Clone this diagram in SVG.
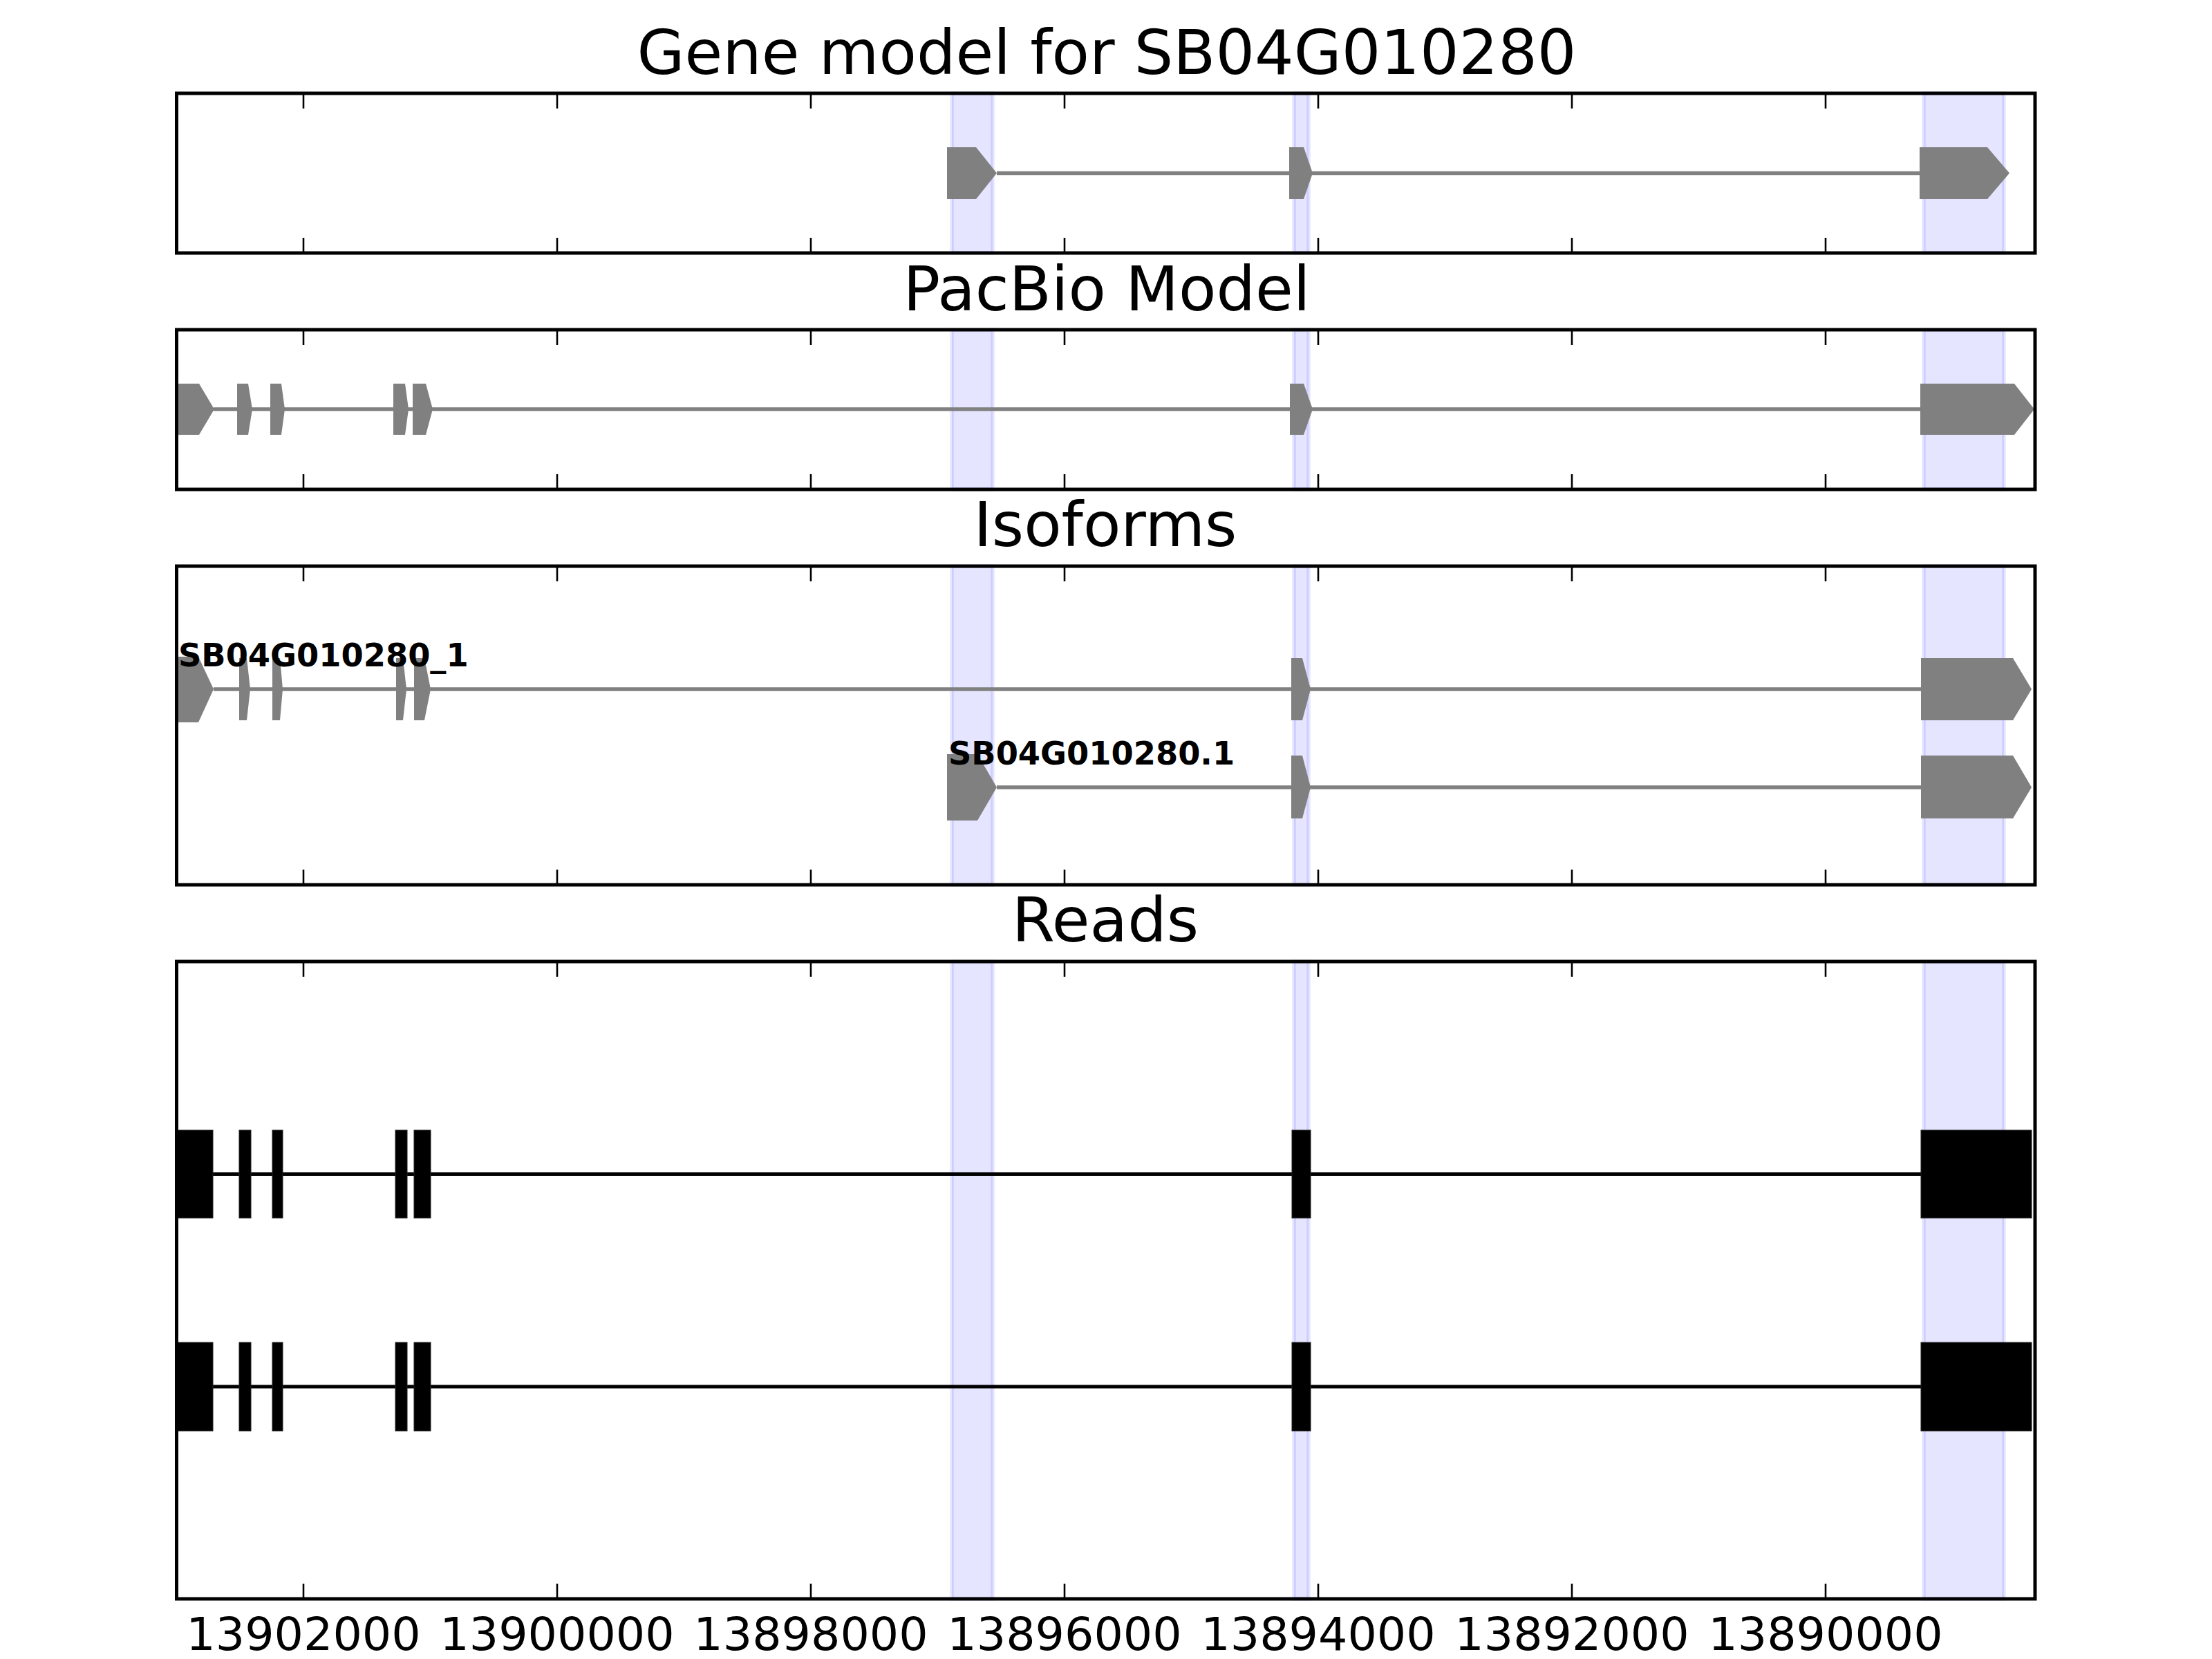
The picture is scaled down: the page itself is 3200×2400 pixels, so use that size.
<svg xmlns="http://www.w3.org/2000/svg" width="3200" height="2400" viewBox="0 0 3200 2400">
<style>
.title{font-family:"DejaVu Sans","Liberation Sans",sans-serif;font-size:89px;fill:#000;text-anchor:middle}
.tick{font-family:"DejaVu Sans","Liberation Sans",sans-serif;font-size:66.7px;fill:#000;text-anchor:middle}
.lbl{font-family:"DejaVu Sans","Liberation Sans",sans-serif;font-size:46.3px;font-weight:bold;fill:#000}
.frame{fill:none;stroke:#000;stroke-width:5}
.band{fill:#0000ff;fill-opacity:0.1;stroke:#0000ff;stroke-opacity:0.1;stroke-width:5.5}
.exon{fill:#808080;stroke:none}
.read{fill:#000;stroke:#222;stroke-width:1}
.intron{stroke:#808080;stroke-width:5.5;fill:none}
.rintron{stroke:#000;stroke-width:5;fill:none}
.tk{stroke:#000;stroke-width:2.6}
</style>
<rect x="0" y="0" width="3200" height="2400" fill="#fff"/>

<!-- titles -->
<text class="title" x="1601" y="107">Gene model for SB04G010280</text>
<text class="title" x="1601" y="449">PacBio Model</text>
<text class="title" x="1599" y="790">Isoforms</text>
<text class="title" x="1599" y="1362">Reads</text>

<!-- highlight bands -->
<g id="bands">
<rect class="band" x="1377" y="135" width="59" height="231"/>
<rect class="band" x="1872" y="135" width="21" height="231"/>
<rect class="band" x="2783" y="135" width="116" height="231"/>
<rect class="band" x="1377" y="477" width="59" height="231"/>
<rect class="band" x="1872" y="477" width="21" height="231"/>
<rect class="band" x="2783" y="477" width="116" height="231"/>
<rect class="band" x="1377" y="819" width="59" height="461"/>
<rect class="band" x="1872" y="819" width="21" height="461"/>
<rect class="band" x="2783" y="819" width="116" height="461"/>
<rect class="band" x="1377" y="1391" width="59" height="922"/>
<rect class="band" x="1872" y="1391" width="21" height="922"/>
<rect class="band" x="2783" y="1391" width="116" height="922"/>
</g>

<!-- connectors (introns) -->
<g id="connectors">
<line class="intron" x1="1442" y1="250.5" x2="2777" y2="250.5"/>
<line class="intron" x1="309" y1="592" x2="2778" y2="592"/>
<line class="intron" x1="309" y1="997" x2="2779" y2="997"/>
<line class="intron" x1="1442" y1="1139" x2="2779" y2="1139"/>
<line class="rintron" x1="256" y1="1698.5" x2="2939" y2="1698.5"/>
<line class="rintron" x1="256" y1="2006" x2="2939" y2="2006"/>
</g>

<!-- gene model -->
<g id="gene-model">
<polygon class="exon" points="1370,213 1412,213 1442,250.5 1412,288 1370,288"/>
<polygon class="exon" points="1865,213 1886,213 1899,250.5 1886,288 1865,288"/>
<polygon class="exon" points="2777,213 2875,213 2907,250.5 2875,288 2777,288"/>
</g>

<!-- pacbio model -->
<g id="pacbio-model">
<polygon class="exon" points="256,555 288,555 310,592 288,629 256,629"/>
<polygon class="exon" points="343,555 359,555 365,592 359,629 343,629"/>
<polygon class="exon" points="391,555 407,555 412,592 407,629 391,629"/>
<polygon class="exon" points="569,555 586,555 591,592 586,629 569,629"/>
<polygon class="exon" points="597,555 616,555 626,592 616,629 597,629"/>
<polygon class="exon" points="1866,555 1886,555 1899,592 1886,629 1866,629"/>
<polygon class="exon" points="2778,555 2914,555 2943,592 2914,629 2778,629"/>
</g>

<!-- isoform 1 -->
<g id="isoform-SB04G010280_1">
<polygon class="exon" points="256,950 287,950 309,997 287,1045 256,1045"/>
<polygon class="exon" points="346,952 357,952 362,997 357,1042 346,1042"/>
<polygon class="exon" points="394,952 405,952 409,997 405,1042 394,1042"/>
<polygon class="exon" points="573,952 583,952 588,997 583,1042 573,1042"/>
<polygon class="exon" points="599,952 614,952 623,997 614,1042 599,1042"/>
<polygon class="exon" points="1868,952 1884,952 1896,997 1884,1042 1868,1042"/>
<polygon class="exon" points="2779,952 2912,952 2939,997 2912,1042 2779,1042"/>
<text class="lbl" x="258" y="964">SB04G010280_1</text>
</g>

<!-- isoform 2 -->
<g id="isoform-SB04G010280.1">
<polygon class="exon" points="1370,1091 1414,1091 1442,1139 1414,1187 1370,1187"/>
<polygon class="exon" points="1868,1093 1884,1093 1896,1139 1884,1184 1868,1184"/>
<polygon class="exon" points="2779,1093 2912,1093 2939,1139 2912,1184 2779,1184"/>
<text class="lbl" x="1372" y="1106">SB04G010280.1</text>
</g>

<!-- reads -->
<g id="read-1">
<rect class="read" x="256" y="1635" width="52" height="127"/>
<rect class="read" x="346" y="1635" width="17" height="127"/>
<rect class="read" x="394" y="1635" width="15" height="127"/>
<rect class="read" x="572" y="1635" width="17" height="127"/>
<rect class="read" x="599" y="1635" width="24" height="127"/>
<rect class="read" x="1869" y="1635" width="27" height="127"/>
<rect class="read" x="2779" y="1635" width="160" height="127"/>
</g>
<g id="read-2">
<rect class="read" x="256" y="1942" width="52" height="128"/>
<rect class="read" x="346" y="1942" width="17" height="128"/>
<rect class="read" x="394" y="1942" width="15" height="128"/>
<rect class="read" x="572" y="1942" width="17" height="128"/>
<rect class="read" x="599" y="1942" width="24" height="128"/>
<rect class="read" x="1869" y="1942" width="27" height="128"/>
<rect class="read" x="2779" y="1942" width="160" height="128"/>
</g>

<!-- frames and ticks -->
<g id="axes">
<rect class="frame" x="255.5" y="135" width="2688.5" height="231"/>
<rect class="frame" x="255.5" y="477" width="2688.5" height="231"/>
<rect class="frame" x="255.5" y="819" width="2688.5" height="461"/>
<rect class="frame" x="255.5" y="1391" width="2688.5" height="922"/>
<path class="tk" d="M439,135v22M806,135v22M1173,135v22M1540,135v22M1907,135v22M2274,135v22M2641,135v22
M439,366v-22M806,366v-22M1173,366v-22M1540,366v-22M1907,366v-22M2274,366v-22M2641,366v-22
M439,477v22M806,477v22M1173,477v22M1540,477v22M1907,477v22M2274,477v22M2641,477v22
M439,708v-22M806,708v-22M1173,708v-22M1540,708v-22M1907,708v-22M2274,708v-22M2641,708v-22
M439,819v22M806,819v22M1173,819v22M1540,819v22M1907,819v22M2274,819v22M2641,819v22
M439,1280v-22M806,1280v-22M1173,1280v-22M1540,1280v-22M1907,1280v-22M2274,1280v-22M2641,1280v-22
M439,1391v22M806,1391v22M1173,1391v22M1540,1391v22M1907,1391v22M2274,1391v22M2641,1391v22
M439,2313v-22M806,2313v-22M1173,2313v-22M1540,2313v-22M1907,2313v-22M2274,2313v-22M2641,2313v-22"/>
<text class="tick" x="439" y="2387">13902000</text>
<text class="tick" x="806" y="2387">13900000</text>
<text class="tick" x="1173" y="2387">13898000</text>
<text class="tick" x="1540" y="2387">13896000</text>
<text class="tick" x="1907" y="2387">13894000</text>
<text class="tick" x="2274" y="2387">13892000</text>
<text class="tick" x="2641" y="2387">13890000</text>
</g>
</svg>
